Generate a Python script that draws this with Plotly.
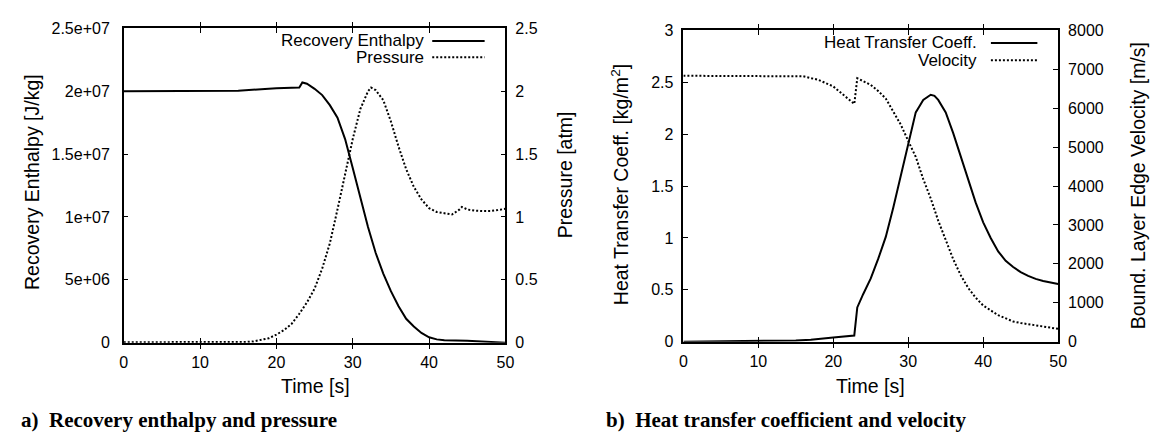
import plotly.graph_objects as go

W, H = 1160, 433

# ---------------- data ----------------
time_a = [0, 5, 10, 15, 18.5, 20, 23, 23.4, 24, 25, 26, 27, 28, 29, 30, 31, 32, 33, 34,
          35, 36, 37, 38, 39, 40, 41, 42, 45, 48, 50]
enthalpy = [2.0e7, 2.0e7, 2.0e7, 2.005e7, 2.018e7, 2.025e7, 2.03e7, 2.07e7, 2.06e7, 2.02e7,
            1.97e7, 1.89e7, 1.79e7, 1.62e7, 1.39e7, 1.15e7, 0.92e7, 0.715e7, 0.55e7,
            0.41e7, 0.29e7, 0.19e7, 0.128e7, 0.077e7, 0.043e7, 0.026e7, 0.02e7, 0.015e7,
            0.005e7, 0.0]

time_p = [0, 5, 10, 15, 16, 17, 18, 19, 20, 21, 22, 23, 24, 25, 26, 27, 28, 29, 30, 31, 32,
          32.4, 33, 34, 35, 36, 37, 38, 39, 40, 41, 42, 43, 44, 44.3, 45, 46, 47, 48, 49, 50]
pressure = [0.003, 0.003, 0.003, 0.003, 0.006, 0.01, 0.02, 0.035, 0.064, 0.10, 0.15, 0.23,
            0.32, 0.43, 0.59, 0.79, 1.06, 1.35, 1.62, 1.86, 2.0, 2.03, 2.01, 1.93, 1.76,
            1.56, 1.38, 1.24, 1.14, 1.07, 1.04, 1.03, 1.02, 1.06, 1.08, 1.06, 1.05, 1.047,
            1.047, 1.055, 1.065]

time_h = [0, 5, 10, 15, 17, 19, 20, 22.8, 23.2, 24, 25, 26, 27, 28, 29, 30, 31, 31.5, 32,
          33, 33.5, 34, 35, 36, 37, 38, 39, 40, 41, 42, 43, 44, 45, 46, 47, 48, 49, 50]
htc = [0.0, 0.002, 0.006, 0.012, 0.018, 0.03, 0.04, 0.06, 0.33, 0.46, 0.61, 0.8, 1.01, 1.29,
       1.6, 1.91, 2.21, 2.27, 2.33, 2.38, 2.37, 2.33, 2.21, 2.01, 1.78, 1.55, 1.34, 1.15,
       1.0, 0.87, 0.78, 0.72, 0.67, 0.635, 0.605, 0.585, 0.57, 0.555]

time_v = [0, 5, 10, 15, 16, 18, 20, 22.8, 23.2, 25, 26, 27, 28, 29, 30, 31, 32, 33, 34, 35,
          36, 37, 38, 39, 40, 42, 44, 45, 47, 50]
velocity = [6834, 6834, 6834, 6830, 6820, 6730, 6560, 6110, 6770, 6600, 6440, 6250, 5900,
            5580, 5160, 4750, 4180, 3680, 3110, 2610, 2120, 1710, 1380, 1130, 930, 680, 520,
            480, 420, 330]

x_ticks = [0, 10, 20, 30, 40, 50]
enth_ticks = [0, 5e6, 1e7, 1.5e7, 2e7, 2.5e7]
enth_labels = ["0", "5e+06", "1e+07", "1.5e+07", "2e+07", "2.5e+07"]
pres_ticks = [0, 0.5, 1, 1.5, 2, 2.5]
pres_labels = ["0", "0.5", "1", "1.5", "2", "2.5"]
htc_ticks = [0, 0.5, 1, 1.5, 2, 2.5, 3]
htc_labels = ["0", "0.5", "1", "1.5", "2", "2.5", "3"]
vel_ticks = [0, 1000, 2000, 3000, 4000, 5000, 6000, 7000, 8000]

# ---------------- layout helpers ----------------
def px(x):
    return x / W

def py(y):
    return 1 - y / H

FONT = "Liberation Sans, Arial, Helvetica, sans-serif"
TICKFONT = dict(family=FONT, size=16, color="black")
LINE = dict(color="black", width=2)
DOT = dict(color="black", width=2, dash="2px,2px")

fig = go.Figure()
fig.add_trace(go.Scatter(x=time_a, y=enthalpy, mode="lines", line=LINE,
                         name="Recovery Enthalpy", xaxis="x", yaxis="y"))
fig.add_trace(go.Scatter(x=time_p, y=pressure, mode="lines", line=DOT,
                         name="Pressure", xaxis="x", yaxis="y2"))
fig.add_trace(go.Scatter(x=time_h, y=htc, mode="lines", line=LINE,
                         name="Heat Transfer Coeff.", xaxis="x2", yaxis="y3"))
fig.add_trace(go.Scatter(x=time_v, y=velocity, mode="lines", line=DOT,
                         name="Velocity", xaxis="x2", yaxis="y4"))

common = dict(showgrid=False, zeroline=False, ticks="inside", ticklen=5, tickwidth=1,
              tickcolor="black", showline=True, linecolor="black", linewidth=1.5,
              tickfont=TICKFONT)

xdom_a = [px(113), px(499)]
xdom_b = [px(679), px(1058)]
ydom_a = [py(340), py(13)]
ydom_b = [py(339), py(15)]

fig.update_layout(
    width=W, height=H, margin=dict(l=0, r=0, t=0, b=0),
    paper_bgcolor="white", plot_bgcolor="white", showlegend=False,
    xaxis=dict(domain=xdom_a, anchor="y", range=[0, 50], tickvals=x_ticks,
               mirror="allticks", ticklabelstandoff=4, **common),
    yaxis=dict(domain=ydom_a, anchor="x", range=[0, 2.5e7], tickvals=enth_ticks,
               ticktext=enth_labels, ticklabelstandoff=9, **common),
    yaxis2=dict(overlaying="y", side="right", anchor="x", range=[0, 2.5],
                tickvals=pres_ticks, ticktext=pres_labels, ticklabelstandoff=5, **common),
    xaxis2=dict(domain=xdom_b, anchor="y3", range=[0, 50], tickvals=x_ticks,
                mirror="allticks", ticklabelstandoff=4, **common),
    yaxis3=dict(domain=ydom_b, anchor="x2", range=[0, 3], tickvals=htc_ticks,
                ticktext=htc_labels, ticklabelstandoff=5, **common),
    yaxis4=dict(overlaying="y3", side="right", anchor="x2", range=[0, 8000],
                tickvals=vel_ticks, ticklabelstandoff=5, **common),
)

ann = []
TF = dict(family=FONT, size=19.5, color="black")
# axis titles
ann.append(dict(text="Time [s]", x=px(307), y=py(385), xref="paper", yref="paper",
                showarrow=False, font=TF, xanchor="center", yanchor="middle"))
ann.append(dict(text="Time [s]", x=px(868), y=py(385), xref="paper", yref="paper",
                showarrow=False, font=TF, xanchor="center", yanchor="middle"))
ann.append(dict(text="Recovery Enthalpy [J/kg]", x=px(20), y=py(173), xref="paper",
                yref="paper", showarrow=False, font=TF, textangle=-90,
                xanchor="center", yanchor="middle"))
ann.append(dict(text="Pressure [atm]", x=px(559), y=py(165), xref="paper", yref="paper",
                showarrow=False, font=TF, textangle=-90, xanchor="center", yanchor="middle"))
ann.append(dict(text="Heat Transfer Coeff. [kg/m<sup>2</sup>]", x=px(615), y=py(176),
                xref="paper", yref="paper", showarrow=False, font=TF, textangle=-90,
                xanchor="center", yanchor="middle"))
ann.append(dict(text="Bound. Layer Edge Velocity [m/s]", x=px(1139), y=py(177),
                xref="paper", yref="paper", showarrow=False, font=TF, textangle=-90,
                xanchor="center", yanchor="middle"))

# legends (text left of sample line, gnuplot style)
LF = dict(family=FONT, size=17, color="black")
legend_rows = [
    ("Recovery Enthalpy", 419, 26, 425, 478, LINE),
    ("Pressure", 419, 43, 425, 478, DOT),
    ("Heat Transfer Coeff.", 978, 28, 990, 1037, LINE),
    ("Velocity", 978, 46, 990, 1037, DOT),
]
shapes = []
for txt, xr, yc, x0, x1, st in legend_rows:
    ann.append(dict(text=txt, x=px(xr), y=py(yc), xref="paper", yref="paper",
                    showarrow=False, font=LF, xanchor="right", yanchor="middle"))
    shapes.append(dict(type="line", xref="paper", yref="paper", x0=px(x0), x1=px(x1),
                       y0=py(yc), y1=py(yc), line=st))

# captions
CF = dict(family="Liberation Serif, Times New Roman, serif", size=21, color="black")
ann.append(dict(text="<b>a)  Recovery enthalpy and pressure</b>", x=px(7), y=py(420),
                xref="paper", yref="paper", showarrow=False, font=CF,
                xanchor="left", yanchor="middle"))
ann.append(dict(text="<b>b)  Heat transfer coefficient and velocity</b>", x=px(599),
                y=py(420), xref="paper", yref="paper", showarrow=False, font=CF,
                xanchor="left", yanchor="middle"))

fig.update_layout(annotations=ann, shapes=shapes)
fig.write_html("out.html")
